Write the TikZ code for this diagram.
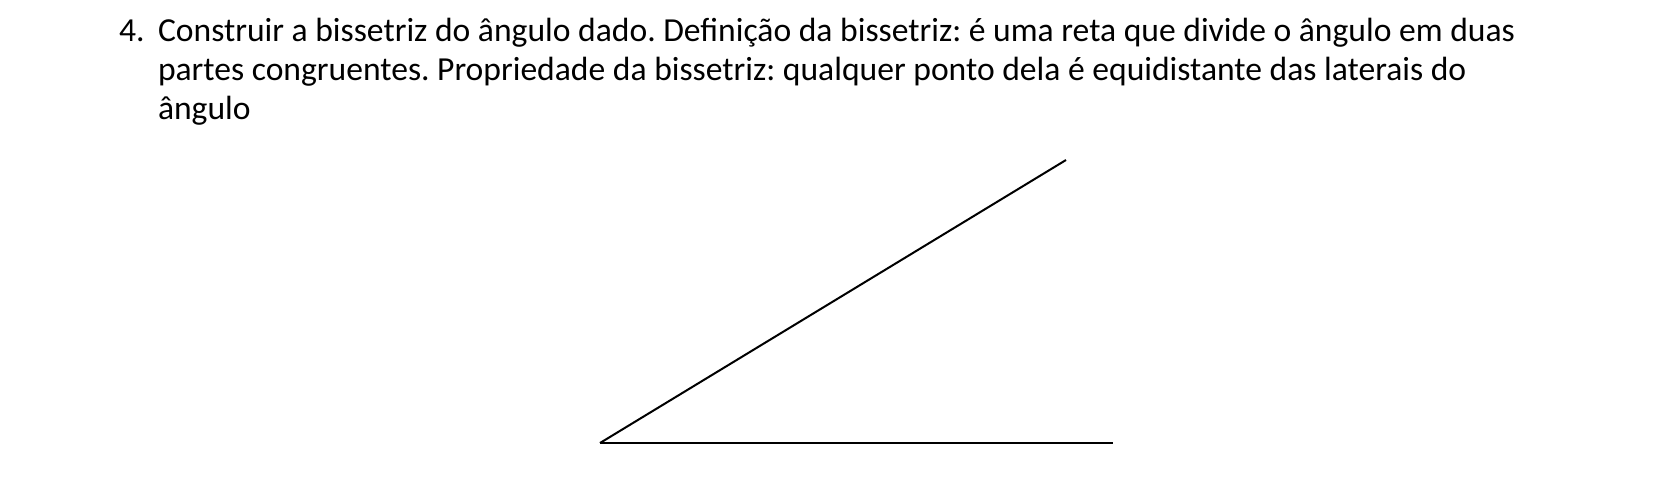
\documentclass[tikz,border=0pt]{standalone}
\usepackage{fontspec}
\setmainfont{Carlito}
\frenchspacing
\begin{document}
\begin{tikzpicture}[x=0.5pt,y=-0.5pt,
  txt/.style={anchor=base west,inner sep=0pt,outer sep=0pt,font=\fontsize{16.8pt}{20pt}\selectfont},
  side/.style={line width=1pt,black}]
\useasboundingbox (0,0) rectangle (1653,487);
\node[txt] (num) at (119,41) {4.};
\node[txt] (l1) at (158,41) {Construir a bissetriz do ângulo dado. Definição da bissetriz: é uma reta que divide o ângulo em duas};
\node[txt] (l2) at (158,80) {partes congruentes. Propriedade da bissetriz: qualquer ponto dela é equidistante das laterais do};
\node[txt] (l3) at (158,119) {ângulo};
\coordinate (V) at (600,443);
\coordinate (H) at (1113,443);
\coordinate (U) at (1066,160);
\draw[side] (V) -- (H);
\draw[side] (V) -- (U);
\end{tikzpicture}
\end{document}
